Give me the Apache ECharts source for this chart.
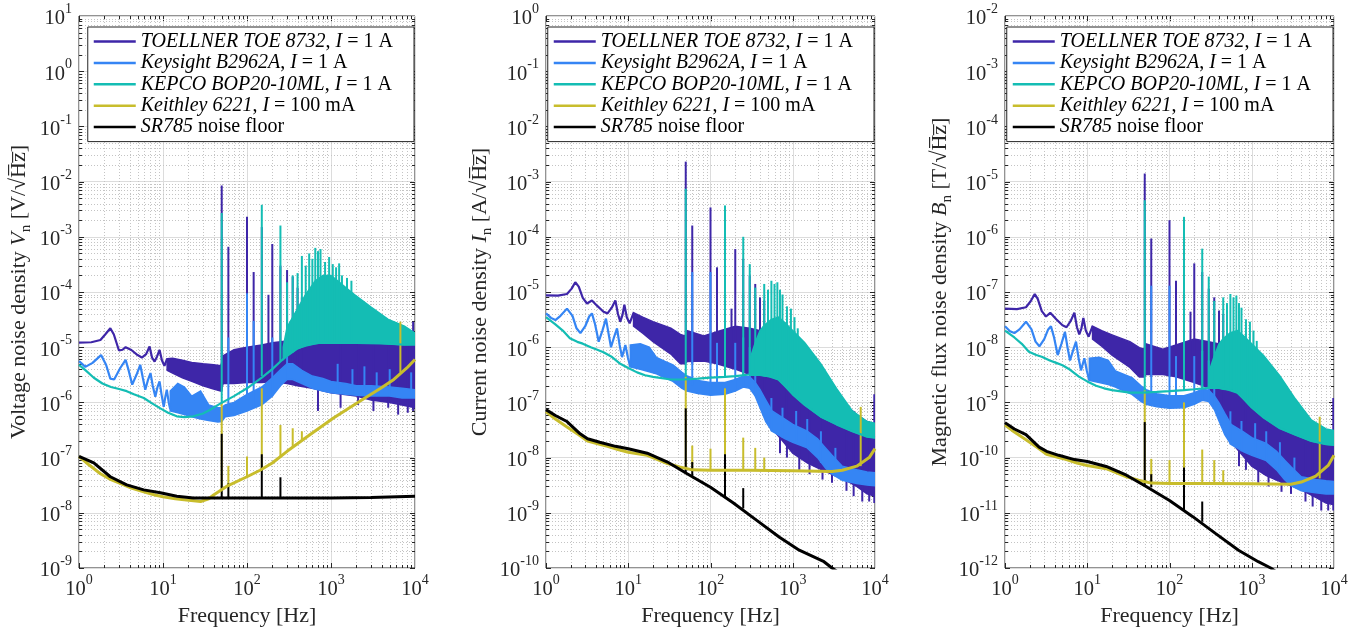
<!DOCTYPE html>
<html><head><meta charset="utf-8">
<script src="https://cdn.jsdelivr.net/npm/echarts@6/dist/echarts.min.js"></script>
<style>html,body{margin:0;padding:0;background:#fff}#c{width:1354px;height:632px}</style>
</head><body><div id="c"></div>
<script>
// ---------------- DATA ----------------
const seriesNames = ['TOELLNER', 'Keysight', 'KEPCO', 'Keithley', 'SR785'];
const legendLabels = [
  '{it|TOELLNER TOE 8732}{rm|, }{it|I}{rm| = 1 A}',
  '{it|Keysight B2962A}{rm|, }{it|I}{rm| = 1 A}',
  '{it|KEPCO BOP20-10ML}{rm|, }{it|I}{rm| = 1 A}',
  '{it|Keithley 6221}{rm|, }{it|I}{rm| = 100 mA}',
  '{it|SR785}{rm| noise floor}'
];
const xRange = [1, 1e4];
const yRanges = [[1e-9, 1e1], [1e-10, 1e0], [1e-12, 1e-2]];
const xTitle = 'Frequency [Hz]';
const yTitles = [
  '{t|Voltage noise density }{i|V}{s|n}{t| [V/√H\u0305z\u0305]}',
  '{t|Current noise density }{i|I}{s|n}{t| [A/√H\u0305z\u0305]}',
  '{t|Magnetic flux noise density }{i|B}{s|n}{t| [T/√H\u0305z\u0305]}'
];

// ----- Panel 1: voltage -----
const v_toe_line = [[1,1.21e-5],[1.4,1.23e-5],[1.8,1.35e-5],[2.05,1.7e-5],[2.36,2.2e-5],[2.6,1.7e-5],[2.99,8.7e-6],[3.3,9.0e-6],[3.59,1.0e-5],[4.2,8.9e-6],[4.98,7.2e-6],[5.6,6.5e-6],[6.3,7.5e-6],[6.92,1.03e-5],[7.4,6.5e-6],[7.94,5.5e-6],[8.5,6.8e-6],[9.1,8.9e-6],[9.7,5.8e-6],[10.4,4.6e-6],[11.2,6.2e-6]];
const v_toe_band = [[11.2,3.8e-6,6.2e-6],[13,3.4e-6,6.3e-6],[17,2.8e-6,5.8e-6],[22,2.4e-6,5.3e-6],[30,2.0e-6,5.0e-6],[40,1.75e-6,4.8e-6],[49,1.6e-6,4.6e-6],[52,2.2e-6,7e-6],[70,2.2e-6,9e-6],[100,2.3e-6,1.0e-5],[150,2.3e-6,1.1e-5],[200,2.4e-6,1.2e-5],[300,2.2e-6,1.3e-5],[400,2.0e-6,1.4e-5],[600,1.8e-6,1.4e-5],[1000,1.5e-6,1.4e-5],[2000,1.3e-6,1.4e-5],[3000,1.1e-6,1.3e-5],[5000,1.0e-6,1.3e-5],[7000,9e-7,1.3e-5],[1e4,8e-7,1.3e-5]];
const v_toe_spikes = [[50,1.6e-6,8.5e-3],[60,2.2e-6,6.6e-4],[100,2.3e-6,2.3e-3],[120,2.3e-6,2.3e-4],[150,2.3e-6,1.5e-3],[180,2.4e-6,8.9e-5],[200,2.4e-6,7.4e-4],[250,2.3e-6,3e-4],[300,2.2e-6,2.5e-4],[350,2.1e-6,1.9e-4],[400,2.0e-6,1.2e-4],[450,2.0e-6,8e-5],[700,7e-7,1.2e-5],[1300,8e-7,1.2e-5],[2100,9e-7,1.2e-5],[3200,7e-7,1.2e-5],[4800,8e-7,1.2e-5],[6300,6e-7,1.2e-5],[8200,6.5e-7,1.2e-5],[9500,7e-7,2.9e-5]];
const v_key_line = [[1,5.6e-6],[1.19,4.4e-6],[1.45,5.2e-6],[1.83,7.2e-6],[2.1,4.8e-6],[2.36,2.7e-6],[2.62,2.6e-6],[3.1,4.2e-6],[3.59,5.9e-6],[3.9,3.8e-6],[4.3,2.1e-6],[4.85,3.2e-6],[5.36,4.8e-6],[5.75,2.8e-6],[6.15,1.7e-6],[6.6,2.5e-6],[7.1,3.4e-6],[7.55,2.0e-6],[8.1,1.26e-6],[8.6,1.9e-6],[9.1,2.4e-6],[9.6,1.4e-6],[10.2,8.3e-7],[10.7,1.3e-6],[11.1,1.7e-6],[11.7,1.0e-6],[12.2,7.5e-7]];
const v_key_band = [[12.2,7e-7,1.6e-6],[15,6.5e-7,2.2e-6],[18,6e-7,1.9e-6],[22,5.5e-7,1.3e-6],[28,5e-7,1.6e-6],[35,4.7e-7,9e-7],[45,4.4e-7,8e-7],[50,4.5e-7,8e-7],[55,5.5e-7,9e-7],[70,5.8e-7,1.0e-6],[100,7e-7,1.4e-6],[150,9e-7,1.9e-6],[200,1.3e-6,2.8e-6],[250,2.0e-6,3.9e-6],[300,2.6e-6,5e-6],[350,2.6e-6,5e-6],[450,2.2e-6,3.8e-6],[600,1.8e-6,3.0e-6],[800,1.6e-6,2.7e-6],[1000,1.5e-6,2.4e-6],[1500,1.4e-6,2.2e-6],[2000,1.35e-6,2.0e-6],[3000,1.3e-6,2.0e-6],[5000,1.3e-6,1.9e-6],[7000,1.2e-6,1.8e-6],[1e4,1.2e-6,1.7e-6]];
const v_key_spikes = [[60,6e-7,1.5e-5],[100,7e-7,9.5e-5],[120,8e-7,3e-5],[200,1.3e-6,1.5e-5],[300,2.6e-6,1.2e-5],[1200,1.5e-6,5e-6],[1800,1.4e-6,4e-6],[2500,1.3e-6,4.5e-6],[3500,1.3e-6,3.5e-6],[5000,1.3e-6,4e-6],[9000,1.2e-6,3.5e-6]];
const v_kep_line = [[1,4.8e-6],[1.2,3.8e-6],[1.5,2.8e-6],[1.9,2.2e-6],[2.4,1.9e-6],[3,1.75e-6],[3.7,1.6e-6],[4.5,1.4e-6],[5.9,1.2e-6],[7.5,9.5e-7],[9.3,7.8e-7],[11.5,6.5e-7],[14.6,5.6e-7],[18,5.4e-7],[23,5.6e-7],[30,6.3e-7],[36,7.3e-7],[48,9.5e-7],[70,1.3e-6],[100,1.8e-6],[150,2.8e-6],[200,4e-6],[250,5.5e-6],[300,7e-6],[400,9.5e-6],[500,1.1e-5],[700,1.2e-5],[1000,1.2e-5],[2000,1.2e-5],[4000,1.17e-5],[7000,1.12e-5],[1e4,1.15e-5]];
const v_kep_band = [[270,6e-6,1e-5],[300,7e-6,2.3e-5],[400,9.5e-6,5e-5],[500,1.05e-5,9e-5],[650,1.15e-5,1.6e-4],[800,1.2e-5,2e-4],[1000,1.2e-5,2e-4],[1200,1.2e-5,1.6e-4],[1500,1.2e-5,1.2e-4],[1900,1.2e-5,9e-5],[3000,1.2e-5,5.3e-5],[4800,1.15e-5,3.2e-5],[7500,1.1e-5,2.4e-5],[1e4,1.1e-5,1.8e-5]];
const v_kep_spikes = [[50,1e-6,2.7e-3],[150,3e-6,3.8e-3],[250,5.5e-6,1.6e-3],[300,7e-6,1.5e-4],[350,8e-6,2e-4],[400,9.5e-6,2.2e-4],[450,1e-5,4.5e-4],[500,1.05e-5,3e-4],[550,1.1e-5,5e-4],[600,1.15e-5,4e-4],[650,1.15e-5,6.3e-4],[700,1.2e-5,5.5e-4],[750,1.2e-5,6e-4],[850,1.2e-5,3.5e-4],[950,1.2e-5,4.3e-4],[1050,1.2e-5,3.2e-4],[1150,1.2e-5,2.8e-4],[1250,1.2e-5,3.3e-4],[1350,1.2e-5,2e-4],[1550,1.2e-5,1.8e-4],[1750,1.2e-5,1.6e-4]];
const v_kth_line = [[1,1.05e-7],[1.3,7.5e-8],[1.8,5.1e-8],[2.4,4.0e-8],[3.1,3.4e-8],[4.2,2.8e-8],[5.9,2.4e-8],[8,2.1e-8],[10,1.95e-8],[14,1.8e-8],[19,1.7e-8],[28,1.6e-8],[35,1.8e-8],[40,2.1e-8],[57,3.0e-8],[100,4.5e-8],[143,5.9e-8],[200,8e-8],[300,1.3e-7],[560,2.6e-7],[1070,5.2e-7],[2200,1.05e-6],[3900,1.8e-6],[5600,2.6e-6],[8000,4.2e-6],[1e4,6.0e-6]];
const v_kth_spikes = [[50,2.8e-8,1.0e-6],[60,3.1e-8,7.1e-8],[100,4.5e-8,1.05e-7],[150,6e-8,1.8e-6],[250,1e-7,3.9e-7],[350,1.5e-7,3.4e-7],[450,2e-7,3.0e-7],[6700,3.5e-6,2.9e-5]];
const v_sr_line = [[1,1.05e-7],[1.5,8e-8],[2.36,4.5e-8],[3.7,3.2e-8],[5.9,2.6e-8],[9.3,2.3e-8],[14.6,2.0e-8],[23,1.85e-8],[40,1.85e-8],[100,1.85e-8],[300,1.85e-8],[1000,1.85e-8],[3000,1.9e-8],[1e4,2.0e-8]];
const v_sr_spikes = [[50,1.85e-8,2.7e-7],[60,1.85e-8,3.4e-8],[150,1.85e-8,1.15e-7],[250,1.85e-8,4.4e-8]];

// ----- Panel 2: current -----
const i_toe_line = [[1,8.7e-6],[1.4,8.6e-6],[1.8,9.2e-6],[2.05,1.15e-5],[2.27,1.5e-5],[2.5,1.25e-5],[2.8,7.8e-6],[3.15,6.2e-6],[3.62,7.0e-6],[4.2,5.6e-6],[5.0,4.4e-6],[5.6,4.1e-6],[6.3,5.2e-6],[6.97,7.0e-6],[7.5,4.0e-6],[8.0,2.9e-6],[8.5,3.8e-6],[8.97,5.9e-6],[9.6,3.5e-6],[10.4,2.7e-6],[11.6,4.2e-6]];
const i_toe_band = [[11.6,2.4e-6,4.2e-6],[15,1.8e-6,3.5e-6],[20,1.26e-6,2.9e-6],[33,7.5e-7,2.2e-6],[43,5e-7,1.7e-6],[49,5e-7,1.6e-6],[52,5.5e-7,2.0e-6],[83,5.6e-7,1.6e-6],[120,5e-7,1.9e-6],[200,4e-7,2.4e-6],[300,3.2e-7,2.2e-6],[400,1.5e-7,2.0e-6],[500,5e-8,1.6e-6],[600,3e-8,1.3e-6],[800,1.8e-8,9e-7],[1000,1.2e-8,6e-7],[1500,8e-9,4e-7],[2000,6.5e-9,2.5e-7],[3000,5e-9,1.5e-7],[4000,4.2e-9,1e-7],[6000,3e-9,6e-8],[8000,2.2e-9,4.5e-8],[1e4,2e-9,4e-8]];
const i_toe_spikes = [[50,5.5e-7,2.3e-3],[60,5e-7,1.6e-4],[100,5e-7,3.4e-4],[120,5e-7,2.8e-5],[150,5e-7,2e-4],[180,4.5e-7,5e-6],[200,4.5e-7,6e-5],[250,4e-7,4e-5],[300,3.5e-7,2e-5],[350,3e-7,1.4e-5],[400,2e-7,8e-6],[450,1.5e-7,7e-6],[700,1.2e-8,5e-7],[850,1.0e-8,5e-7],[1200,6e-9,3e-7],[1600,5e-9,3e-7],[2300,4e-9,2e-7],[3000,3.5e-9,1.5e-7],[4500,2.5e-9,8e-8],[5500,2e-9,7e-8],[7000,1.6e-9,5e-8],[8500,1.6e-9,4.5e-8],[9800,1.5e-9,1.4e-7]];
const i_key_line = [[1,4.1e-6],[1.15,3.4e-6],[1.3,3.1e-6],[1.5,3.7e-6],[1.8,5.0e-6],[2.1,3.7e-6],[2.35,2.2e-6],[2.62,1.8e-6],[3.0,2.4e-6],[3.35,3.6e-6],[3.62,4.1e-6],[3.95,2.6e-6],[4.37,1.26e-6],[4.85,2.0e-6],[5.36,3.3e-6],[5.75,1.8e-6],[6.17,1.0e-6],[6.7,1.5e-6],[7.3,2.2e-6],[7.85,1.1e-6],[8.4,6.6e-7],[8.8,8.5e-7],[9.22,1.1e-6],[9.9,6.5e-7],[10.6,4.4e-7]];
const i_key_band = [[10.6,4.4e-7,1.1e-6],[14,4e-7,1.15e-6],[18,3.6e-7,1.0e-6],[22,3.3e-7,6.5e-7],[28,2.8e-7,5.5e-7],[35,2.4e-7,4.8e-7],[45,1.8e-7,3.5e-7],[52,1.6e-7,3.0e-7],[70,1.45e-7,2.5e-7],[100,1.35e-7,2.3e-7],[150,1.4e-7,2.3e-7],[200,1.6e-7,2.6e-7],[250,1.9e-7,3.0e-7],[300,1.8e-7,2.9e-7],[350,1.3e-7,2.3e-7],[400,8e-8,1.7e-7],[470,4.5e-8,1.1e-7],[560,3e-8,7e-8],[800,2.2e-8,5e-8],[1000,1.9e-8,4e-8],[1500,1.5e-8,3e-8],[2000,1.0e-8,2.2e-8],[2500,6.5e-9,1.5e-8],[3000,5e-9,1.1e-8],[4000,3.9e-9,7e-9],[6000,3.4e-9,6e-9],[8000,3.2e-9,5.5e-9],[1e4,3.1e-9,5.3e-9]];
const i_key_spikes = [[60,2e-7,2.3e-5],[100,1.4e-7,2.3e-5],[120,1.4e-7,1.2e-6],[200,1.6e-7,1.2e-6],[250,1.9e-7,1.5e-6],[300,1.8e-7,1.0e-6],[350,1.3e-7,7e-7],[550,3e-8,1.2e-7],[750,2.3e-8,8e-8],[1100,1.8e-8,7e-8],[1500,1.5e-8,5e-8],[2200,8e-9,3e-8],[3300,4.5e-9,1.5e-8]];
const i_kep_line = [[1,3.5e-6],[1.3,2.6e-6],[1.6,2.0e-6],[1.95,1.45e-6],[2.4,1.25e-6],[2.8,1.16e-6],[3.5,1.0e-6],[4.2,9e-7],[5,8.1e-7],[6.2,6.8e-7],[8,5.0e-7],[10,4.2e-7],[12.8,3.5e-7],[16,3.1e-7],[20,2.9e-7],[33,2.6e-7],[47,2.6e-7],[70,2.7e-7],[100,2.8e-7],[150,2.9e-7],[200,3.0e-7],[300,3.2e-7],[400,3.2e-7],[500,3.0e-7],[670,2.6e-7],[800,2.0e-7],[1000,1.4e-7],[1400,9e-8],[2200,5.5e-8],[3400,4e-8],[5300,3e-8],[8000,2.4e-8],[1e4,2.3e-8]];
const i_kep_band = [[300,3.1e-7,6e-7],[350,3.1e-7,1.2e-6],[400,3.1e-7,2e-6],[450,3.0e-7,2.5e-6],[550,2.9e-7,3.2e-6],[670,2.6e-7,3.5e-6],[800,2.0e-7,2.8e-6],[1000,1.4e-7,2.0e-6],[1400,9e-8,1.2e-6],[2200,5.5e-8,5e-7],[3400,4e-8,1.8e-7],[5300,3.0e-8,7e-8],[8000,2.4e-8,4.5e-8],[1e4,2.3e-8,4.2e-8]];
const i_kep_spikes = [[50,2.6e-7,7.4e-4],[150,2.9e-7,3.7e-4],[250,3.1e-7,1.0e-4],[300,3.2e-7,3.2e-5],[350,3.2e-7,1.2e-5],[450,3e-7,1.4e-5],[500,3e-7,1.1e-5],[550,2.9e-7,1.6e-5],[600,2.8e-7,1.4e-5],[650,2.7e-7,1.5e-5],[700,2.5e-7,1.1e-5],[750,2.3e-7,9e-6],[850,1.9e-7,5.5e-6],[950,1.6e-7,5e-6],[1050,1.4e-7,3.5e-6],[1150,1.2e-7,2.2e-6]];
const i_kth_line = [[1,6.8e-8],[1.3,5.0e-8],[1.8,3.6e-8],[2.5,2.6e-8],[3.2,2.0e-8],[4.5,1.75e-8],[5.6,1.6e-8],[7.5,1.4e-8],[10,1.25e-8],[17,1.1e-8],[30,7.8e-9],[42,6.8e-9],[60,6.0e-9],[100,5.9e-9],[300,5.9e-9],[1000,5.8e-9],[3000,5.6e-9],[4000,5.9e-9],[6000,7e-9],[8500,1.0e-8],[1e4,1.45e-8]];
const i_kth_spikes = [[50,6.5e-9,2.9e-7],[60,6e-9,1.65e-8],[100,5.9e-9,1.45e-8],[150,5.9e-9,1.8e-7],[250,5.9e-9,2.3e-8],[350,5.9e-9,1.5e-8],[450,5.9e-9,1.0e-8],[6700,7e-9,8.3e-8]];
const i_sr_line = [[1,7.4e-8],[1.3,5.8e-8],[1.8,4.5e-8],[2.6,2.7e-8],[3.2,2.2e-8],[4.5,1.9e-8],[7,1.6e-8],[10,1.45e-8],[17,1.2e-8],[30,8.3e-9],[52,5.1e-9],[100,2.9e-9],[190,1.5e-9],[365,7.3e-10],[690,3.6e-10],[1200,2.1e-10],[2400,1.3e-10],[3000,1.0e-10],[1e4,3.0e-11]];
const i_sr_spikes = [[50,5.3e-9,7.8e-8],[60,4.6e-9,8.3e-9],[150,1.9e-9,1.15e-8],[250,1.2e-9,2.8e-9]];

// ----- Panel 3: magnetic flux -----
const b_toe_line = [[1,5.0e-8],[1.4,4.9e-8],[1.8,5.3e-8],[2.05,6.8e-8],[2.3,9.2e-8],[2.5,7.5e-8],[2.8,4.5e-8],[3.15,3.6e-8],[3.55,4.2e-8],[4.2,3.2e-8],[5.0,2.5e-8],[5.6,2.3e-8],[6.3,3.0e-8],[6.97,4.2e-8],[7.5,2.3e-8],[8.0,1.7e-8],[8.5,2.2e-8],[8.97,3.4e-8],[9.6,2.0e-8],[10.4,1.55e-8],[11.6,2.4e-8]];
const b_toe_band = [[11.6,1.4e-8,2.4e-8],[15,1.04e-8,2.0e-8],[20,7.2e-9,1.67e-8],[33,4.3e-9,1.26e-8],[43,2.9e-9,9.8e-9],[49,2.9e-9,9.2e-9],[52,3.2e-9,1.15e-8],[83,3.2e-9,9.2e-9],[120,2.9e-9,1.1e-8],[200,2.3e-9,1.4e-8],[300,1.84e-9,1.26e-8],[400,8.6e-10,1.15e-8],[500,2.9e-10,9.2e-9],[600,1.7e-10,7.5e-9],[800,1.04e-10,5.2e-9],[1000,7e-11,3.5e-9],[1500,4.7e-11,2.4e-9],[2000,3.9e-11,1.5e-9],[3000,3.1e-11,9e-10],[4000,2.6e-11,6.3e-10],[6000,1.9e-11,3.9e-10],[8000,1.5e-11,3.1e-10],[1e4,1.4e-11,2.9e-10]];
const b_toe_spikes = [[50,3.2e-9,1.4e-5],[60,2.9e-9,9.3e-7],[100,2.9e-9,2.0e-6],[120,2.9e-9,1.6e-7],[150,2.9e-9,1.15e-6],[180,2.6e-9,4.4e-8],[200,2.6e-9,3.3e-7],[250,2.3e-9,2.3e-7],[300,2e-9,1.15e-7],[350,1.7e-9,8e-8],[400,1.15e-9,4.6e-8],[450,8.6e-10,4e-8],[700,7e-11,2.9e-9],[850,6e-11,3e-9],[1200,3.5e-11,1.7e-9],[1600,3e-11,1.8e-9],[2300,2.4e-11,1.2e-9],[3000,2.2e-11,9e-10],[4500,1.6e-11,5.2e-10],[5500,1.3e-11,4.5e-10],[7000,1.1e-11,3.5e-10],[8500,1.1e-11,3e-10],[9800,1.1e-11,1.2e-9]];
const b_key_line = [[1,2.4e-8],[1.15,1.95e-8],[1.3,1.8e-8],[1.5,2.1e-8],[1.8,2.9e-8],[2.1,2.1e-8],[2.35,1.26e-8],[2.62,1.04e-8],[3.0,1.4e-8],[3.35,2.1e-8],[3.62,2.4e-8],[3.95,1.5e-8],[4.37,7.2e-9],[4.85,1.15e-8],[5.36,1.9e-8],[5.75,1.0e-8],[6.17,5.75e-9],[6.7,8.6e-9],[7.3,1.26e-8],[7.85,6.3e-9],[8.4,3.8e-9],[8.8,4.9e-9],[9.22,6.3e-9],[9.9,3.7e-9],[10.6,2.5e-9]];
const b_key_band = [[10.6,2.5e-9,6.3e-9],[14,2.3e-9,6.6e-9],[18,2.1e-9,5.75e-9],[22,1.9e-9,3.7e-9],[28,1.6e-9,3.2e-9],[35,1.4e-9,2.8e-9],[45,1.04e-9,2.0e-9],[52,9.2e-10,1.7e-9],[70,8.3e-10,1.44e-9],[100,7.8e-10,1.32e-9],[150,8e-10,1.32e-9],[200,9.2e-10,1.5e-9],[250,1.09e-9,1.73e-9],[300,1.04e-9,1.67e-9],[350,7.5e-10,1.32e-9],[400,4.6e-10,9.8e-10],[470,2.6e-10,6.3e-10],[560,1.73e-10,4.0e-10],[800,1.27e-10,2.9e-10],[1000,1.1e-10,2.3e-10],[1500,8.8e-11,1.8e-10],[2000,6e-11,1.3e-10],[2500,4e-11,9e-11],[3000,3.1e-11,6.8e-11],[4000,2.5e-11,4.5e-11],[6000,2.3e-11,4e-11],[8000,2.2e-11,3.8e-11],[1e4,2.2e-11,3.7e-11]];
const b_key_spikes = [[60,1.15e-9,1.3e-7],[100,8e-10,1.3e-7],[120,8e-10,6.9e-9],[200,9.2e-10,6.9e-9],[250,1.09e-9,8.6e-9],[300,1.04e-9,5.75e-9],[350,7.5e-10,4e-9],[550,1.73e-10,6.9e-10],[750,1.3e-10,4.6e-10],[1100,1.05e-10,4.2e-10],[1500,9e-11,3e-10],[2200,5e-11,1.9e-10],[3300,3e-11,1e-10]];
const b_kep_line = [[1,2.0e-8],[1.3,1.5e-8],[1.6,1.15e-8],[1.95,8.3e-9],[2.4,7.2e-9],[2.8,6.7e-9],[3.5,5.75e-9],[4.2,5.2e-9],[5,4.7e-9],[6.2,3.9e-9],[8,2.9e-9],[10,2.4e-9],[12.8,2.0e-9],[16,1.8e-9],[20,1.67e-9],[33,1.5e-9],[47,1.5e-9],[70,1.55e-9],[100,1.6e-9],[150,1.67e-9],[200,1.73e-9],[300,1.84e-9],[400,1.84e-9],[500,1.73e-9],[670,1.5e-9],[800,1.15e-9],[1000,8.1e-10],[1400,5.3e-10],[2200,3.4e-10],[3400,2.6e-10],[5300,2.0e-10],[8000,1.75e-10],[1e4,1.7e-10]];
const b_kep_band = [[300,1.8e-9,3.5e-9],[350,1.8e-9,6.9e-9],[400,1.8e-9,1.15e-8],[450,1.73e-9,1.44e-8],[550,1.67e-9,1.84e-8],[670,1.5e-9,2.0e-8],[800,1.15e-9,1.6e-8],[1000,8.1e-10,1.15e-8],[1400,5.3e-10,7e-9],[2200,3.4e-10,3.0e-9],[3400,2.6e-10,1.15e-9],[5300,2.0e-10,4.8e-10],[8000,1.75e-10,3.3e-10],[1e4,1.7e-10,3.1e-10]];
const b_kep_spikes = [[50,1.5e-9,4.6e-6],[150,1.67e-9,2.3e-6],[250,1.75e-9,6.1e-7],[300,1.84e-9,1.9e-7],[350,1.84e-9,6.9e-8],[450,1.73e-9,8e-8],[500,1.73e-9,6.3e-8],[550,1.67e-9,9.2e-8],[600,1.6e-9,8e-8],[650,1.55e-9,8.6e-8],[700,1.44e-9,6.3e-8],[750,1.3e-9,5.2e-8],[850,1.1e-9,3.2e-8],[950,9.2e-10,2.9e-8],[1050,8e-10,2.0e-8],[1150,7e-10,1.3e-8]];
const b_kth_line = [[1,3.9e-10],[1.3,2.9e-10],[1.8,2.1e-10],[2.5,1.5e-10],[3.2,1.15e-10],[4.5,1.0e-10],[5.6,9.2e-11],[7.5,8e-11],[10,7.2e-11],[17,6.3e-11],[30,4.5e-11],[42,3.9e-11],[60,3.45e-11],[100,3.4e-11],[300,3.4e-11],[1000,3.35e-11],[3000,3.3e-11],[4000,3.6e-11],[6000,4.6e-11],[8500,7.2e-11],[1e4,1.1e-10]];
const b_kth_spikes = [[50,3.5e-11,1.65e-9],[60,3.5e-11,9.5e-11],[100,3.4e-11,9e-11],[150,3.4e-11,1.0e-9],[250,3.4e-11,1.4e-10],[350,3.4e-11,9e-11],[450,3.4e-11,5.9e-11],[6700,4.2e-11,5.5e-10]];
const b_sr_line = [[1,4.3e-10],[1.3,3.3e-10],[1.8,2.6e-10],[2.6,1.55e-10],[3.2,1.3e-10],[4.5,1.1e-10],[7,9.2e-11],[10,8.5e-11],[17,6.9e-11],[30,4.8e-11],[52,3e-11],[100,1.67e-11],[190,8.6e-12],[365,4.2e-12],[690,2.1e-12],[1200,1.3e-12],[1700,1.0e-12],[3000,5.5e-13],[1e4,1.8e-13]];
const b_sr_spikes = [[50,3e-11,4.4e-10],[60,2.9e-11,5e-11],[150,1.1e-11,6.6e-11],[250,6.9e-12,1.6e-11]];

// ---------------- STYLE / LAYOUT ----------------
const FONT = 'Liberation Serif';
const TXT = '#262626';
const colors = ['#3E26A8', '#3585F4', '#14BDB4', '#C8BD2C', '#000000'];
const lineWidths = [2.2, 2.2, 2.2, 3, 3];
const grids = [
  {left: 79, top: 16, width: 336, height: 552},
  {left: 546, top: 16, width: 329, height: 552},
  {left: 1005, top: 16, width: 329, height: 552}
];
const legendRight = [940, 480, 21];
const yNameGap = [45, 51, 50];

const panels = [
  [[v_toe_line, v_toe_band, v_toe_spikes], [v_key_line, v_key_band, v_key_spikes], [v_kep_line, v_kep_band, v_kep_spikes], [v_kth_line, null, v_kth_spikes], [v_sr_line, null, v_sr_spikes]],
  [[i_toe_line, i_toe_band, i_toe_spikes], [i_key_line, i_key_band, i_key_spikes], [i_kep_line, i_kep_band, i_kep_spikes], [i_kth_line, null, i_kth_spikes], [i_sr_line, null, i_sr_spikes]],
  [[b_toe_line, b_toe_band, b_toe_spikes], [b_key_line, b_key_band, b_key_spikes], [b_kep_line, b_kep_band, b_kep_spikes], [b_kth_line, null, b_kth_spikes], [b_sr_line, null, b_sr_spikes]]
];

// ---------------- CHART ----------------
const expFmt = v => '{b|10}{s|' + Math.round(Math.log10(v)) + '}';
const tickRich = {
  b: {fontFamily: FONT, fontSize: 20.5, color: TXT, lineHeight: 27, verticalAlign: 'bottom'},
  s: {fontFamily: FONT, fontSize: 14, color: TXT, lineHeight: 27, verticalAlign: 'top'}
};
const nameRich = {
  t: {fontFamily: FONT, fontSize: 22, color: TXT, lineHeight: 30, verticalAlign: 'middle'},
  i: {fontFamily: FONT, fontSize: 22, fontStyle: 'italic', color: TXT, lineHeight: 30, verticalAlign: 'middle'},
  s: {fontFamily: FONT, fontSize: 15, color: TXT, lineHeight: 30, verticalAlign: 'bottom'}
};

function frameSeries(gi) {
  const yr = yRanges[gi];
  const lo = Math.round(Math.log10(yr[0])), hi = Math.round(Math.log10(yr[1]));
  const xlo = Math.round(Math.log10(xRange[0])), xhi = Math.round(Math.log10(xRange[1]));
  return {
    type: 'custom', xAxisIndex: gi, yAxisIndex: gi, silent: true, clip: false,
    data: [[xRange[0], yr[0]]],
    renderItem: function (params, api) {
      const cs = params.coordSys;
      const L = cs.x, R = cs.x + cs.width, T = cs.y, B = cs.y + cs.height;
      const ch = [];
      const minor = {stroke: '#c4c4c4', lineWidth: 1, lineDash: [1, 2]};
      const tk = {stroke: TXT, lineWidth: 1};
      for (let d = xlo; d < xhi; d++) {
        for (let m = 1; m <= 9; m++) {
          const x = Math.round(api.coord([m * Math.pow(10, d), yr[0]])[0]) + 0.5;
          const len = m === 1 ? 5 : 3;
          if (m > 1) ch.push({type: 'line', shape: {x1: x, y1: T, x2: x, y2: B}, style: minor});
          ch.push({type: 'line', shape: {x1: x, y1: B, x2: x, y2: B - len}, style: tk});
          ch.push({type: 'line', shape: {x1: x, y1: T, x2: x, y2: T + len}, style: tk});
        }
      }
      for (let d = lo; d < hi; d++) {
        for (let m = 1; m <= 9; m++) {
          const y = Math.round(api.coord([xRange[0], m * Math.pow(10, d)])[1]) + 0.5;
          const len = m === 1 ? 5 : 3;
          if (m > 1) ch.push({type: 'line', shape: {x1: L, y1: y, x2: R, y2: y}, style: minor});
          ch.push({type: 'line', shape: {x1: L, y1: y, x2: L + len, y2: y}, style: tk});
          ch.push({type: 'line', shape: {x1: R, y1: y, x2: R - len, y2: y}, style: tk});
        }
      }
      return {type: 'group', children: ch};
    }
  };
}
function lineSeries(name, color, data, gi, w) {
  return {type: 'line', name: name, xAxisIndex: gi, yAxisIndex: gi, data: data, showSymbol: false, symbol: 'none',
    lineStyle: {color: color, width: w}, itemStyle: {color: color}, silent: true, clip: true};
}
function bandSeries(color, band, gi) {
  return {
    type: 'custom', xAxisIndex: gi, yAxisIndex: gi, silent: true, clip: true,
    data: band, encode: {x: 0, y: [1, 2]},
    renderItem: function (params, api) {
      if (params.dataIndex !== 0) return null;
      const top = band.map(d => api.coord([d[0], d[2]]));
      const bot = band.map(d => api.coord([d[0], d[1]])).reverse();
      return {type: 'polygon', shape: {points: top.concat(bot)}, style: {fill: color, stroke: color, lineWidth: 1.5}};
    }
  };
}
function spikeSeries(color, spikes, gi, w) {
  return {
    type: 'custom', xAxisIndex: gi, yAxisIndex: gi, silent: true, clip: true,
    data: spikes, encode: {x: 0, y: [1, 2]},
    renderItem: function (params, api) {
      const a = api.coord([api.value(0), api.value(1)]);
      const b = api.coord([api.value(0), api.value(2)]);
      return {type: 'line', shape: {x1: a[0], y1: a[1], x2: b[0], y2: b[1]}, style: {stroke: color, lineWidth: w}};
    }
  };
}

const series = [];
const xAxes = [], yAxes = [], gridOpts = [], legends = [];
for (let gi = 0; gi < 3; gi++) {
  gridOpts.push(Object.assign({show: true, borderColor: TXT, borderWidth: 1, backgroundColor: '#fff', containLabel: false}, grids[gi]));
  xAxes.push({
    type: 'log', logBase: 10, gridIndex: gi, min: xRange[0], max: xRange[1], interval: 1,
    axisLine: {show: false}, axisTick: {show: false},
    splitLine: {show: true, lineStyle: {color: '#dcdcdc', width: 1}},
    axisLabel: {formatter: expFmt, rich: tickRich, margin: 5},
    name: xTitle, nameLocation: 'middle', nameGap: 35,
    nameTextStyle: {fontFamily: FONT, fontSize: 22, color: TXT}
  });
  yAxes.push({
    type: 'log', logBase: 10, gridIndex: gi, min: yRanges[gi][0], max: yRanges[gi][1], interval: 1,
    axisLine: {show: false}, axisTick: {show: false},
    splitLine: {show: true, lineStyle: {color: '#dcdcdc', width: 1}},
    axisLabel: {formatter: expFmt, rich: tickRich, margin: 7},
    name: yTitles[gi], nameLocation: 'middle', nameGap: yNameGap[gi], nameRotate: 90,
    nameTextStyle: {rich: nameRich}
  });
  legends.push({
    data: seriesNames, orient: 'vertical', right: legendRight[gi], top: 27,
    icon: 'rect', itemWidth: 42, itemHeight: 2.5, itemGap: 0.4,
    padding: [4, 21, 4, 6], backgroundColor: '#fff', borderColor: TXT, borderWidth: 1,
    selectedMode: false,
    formatter: n => legendLabels[seriesNames.indexOf(n)],
    textStyle: {fontFamily: FONT, fontSize: 20, color: '#000', lineHeight: 21,
      rich: {
        it: {fontFamily: FONT, fontSize: 20, fontStyle: 'italic', color: '#000', lineHeight: 21},
        rm: {fontFamily: FONT, fontSize: 20, color: '#000', lineHeight: 21}
      }}
  });
  series.push(frameSeries(gi));
  panels[gi].forEach((p, k) => {
    series.push(lineSeries(seriesNames[k], colors[k], p[0], gi, lineWidths[k]));
    if (p[1]) series.push(bandSeries(colors[k], p[1], gi));
    if (p[2]) series.push(spikeSeries(colors[k], p[2], gi, 2));
  });
}

const chart = echarts.init(document.getElementById('c'), null, {renderer: 'canvas'});
chart.setOption({
  animation: false,
  backgroundColor: '#fff',
  grid: gridOpts, xAxis: xAxes, yAxis: yAxes, legend: legends, series: series
});
</script></body></html>
